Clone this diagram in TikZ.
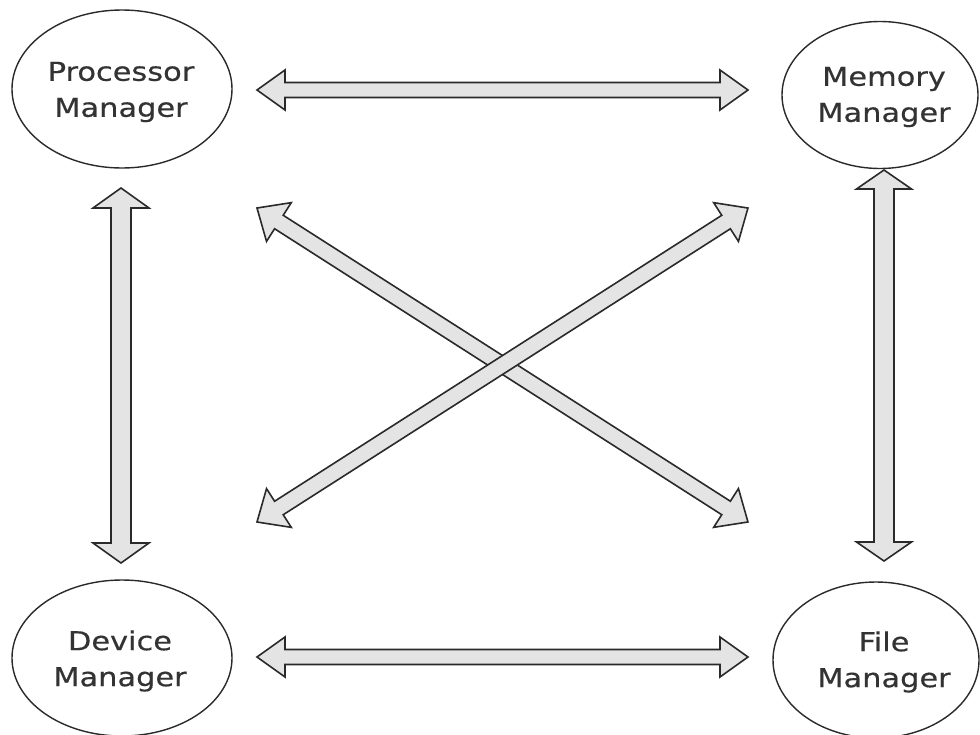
\documentclass[tikz,border=0pt]{standalone}
\usepackage{fontspec}
\newfontfamily\labfont[FakeStretch=1.17,FakeBold=0.4]{DejaVu Sans}
\usetikzlibrary{shapes.geometric,calc}
\definecolor{linec}{HTML}{2A2A2A}
\definecolor{fillc}{HTML}{E4E4E4}
\definecolor{textc}{HTML}{333333}
\tikzset{
  mgr/.style={ellipse, draw=linec, line width=1.4pt, fill=white, inner sep=0pt},
  lab/.style={text=textc, align=center, inner sep=0pt,
    font=\labfont\fontsize{26}{36}\selectfont},
  arr/.style={draw=linec, fill=fillc, line width=1.6pt, line join=miter}
}
% #1 start, #2 end, #3 shaft half width, #4 head half width, #5 head length
\newcommand\dblarr[5]{%
  \draw[arr] let \p1=(#1), \p2=(#2),
    \n1={atan2(\y2-\y1,\x2-\x1)}, \n2={veclen(\x2-\x1,\y2-\y1)} in
    [shift={(\p1)}, rotate=\n1]
    (0pt,0pt) -- (#5pt,#4pt) -- (#5pt,#3pt) -- ({\n2*1pt-#5pt},#3pt)
    -- ({\n2*1pt-#5pt},#4pt) -- ({\n2*1pt},0pt) -- ({\n2*1pt-#5pt},-#4pt)
    -- ({\n2*1pt-#5pt},-#3pt) -- (#5pt,-#3pt) -- (#5pt,-#4pt) -- cycle;}
\begin{document}
\begin{tikzpicture}[x=1pt,y=-1pt]
\useasboundingbox[fill=white] (0,0) rectangle (980,734);
% managers
\node[mgr, minimum width=220pt, minimum height=158pt] (pm) at (122,89) {};
\node[mgr, minimum width=196pt, minimum height=147pt] (mm) at (880,95) {};
\node[mgr, minimum width=220pt, minimum height=156pt] (dm) at (122,658) {};
\node[mgr, minimum width=206pt, minimum height=156pt] (fm) at (876,660) {};
\node[lab] (pmT) at ([xshift=-1pt,yshift=-3pt]pm.center) {Processor\\Manager};
\node[lab] (mmT) at ([xshift=4pt,yshift=-2pt]mm.center) {Memory\\Manager};
\node[lab] (dmT) at ([xshift=-2pt,yshift=-3pt]dm.center) {Device\\Manager};
\node[lab] (fmT) at ([xshift=8pt,yshift=-2pt]fm.center) {File\\Manager};
% arrow end points
\coordinate (pmR) at (257,90);
\coordinate (mmL) at (748,90);
\coordinate (dmR) at (257,657);
\coordinate (fmL) at (748,657);
\coordinate (pmB) at (121,188);
\coordinate (dmE) at (121,563);
\coordinate (mmB) at (884,170);
\coordinate (fmE) at (884,561);
\coordinate (pmD) at (257,208);
\coordinate (fmD) at (748,522);
\coordinate (dmD) at (257,522);
\coordinate (mmD) at (748,208);
% connectors
\dblarr{pmR}{mmL}{7.5}{20}{28}
\dblarr{dmR}{fmL}{7.5}{20}{28}
\dblarr{pmB}{dmE}{10}{28}{20}
\dblarr{mmB}{fmE}{10}{27.5}{19}
\dblarr{pmD}{fmD}{8}{23}{26}
\dblarr{dmD}{mmD}{8}{23}{26}
\end{tikzpicture}
\end{document}
